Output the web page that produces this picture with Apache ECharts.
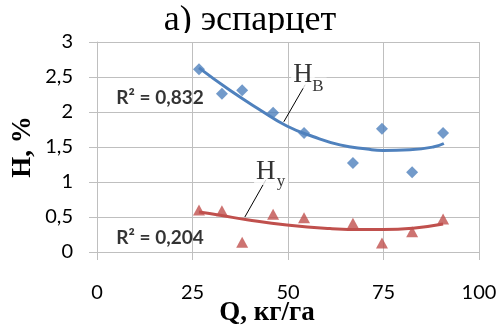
<!DOCTYPE html>
<html>
<head>
<meta charset="utf-8">
<script src="https://cdn.jsdelivr.net/npm/echarts@6/dist/echarts.min.js"></script>
<style>
html,body{margin:0;padding:0;background:#fff;}
#chart{width:500px;height:329px;}
</style>
</head>
<body>
<div id="chart"></div>
<script>
// ---- data ----
const seedRateQ = [26.7, 32.7, 38.0, 46.1, 54.2, 67.0, 74.6, 82.5, 90.6];
const hV = [2.61, 2.26, 2.31, 1.99, 1.70, 1.27, 1.76, 1.14, 1.70];
const hU = [0.60, 0.59, 0.14, 0.54, 0.49, 0.41, 0.13, 0.29, 0.47];

const trendVx = [26.7, 34.8, 42.7, 49.7, 56.5, 63.6, 70.7, 74.9, 81.9, 88.0, 90.8];
const trendVy = [2.63, 2.31, 2.03, 1.80, 1.65, 1.53, 1.47, 1.45, 1.46, 1.50, 1.55];
const trendUx = [26.7, 32.2, 39.3, 49.7, 61.0, 70.0, 74.9, 82.7, 90.6];
const trendUy = [0.57, 0.525, 0.46, 0.385, 0.335, 0.32, 0.32, 0.34, 0.40];

const xTickLabels = ['0', '25', '50', '75', '100'];
const yTickLabels = ['0', '0,5', '1', '1,5', '2', '2,5', '3'];

const titleText = 'а) эспарцет';
const xName = 'Q, кг/га';
const yName = 'H, %';
const r2Texts = ['R² = 0,832', 'R² = 0,204'];
const r2Pos = [[16.5, 2.2], [16.5, 0.2]];
const hMain = 'Н';
const hSubs = ['В', 'у'];
const hMainPos = [[53.9, 2.53], [44.2, 1.15]];
const hSubPos = [[58.1, 2.37], [48.4, 1.0]];
const leaders = [[[54.5, 2.39], [48.9, 1.86]], [[44.2, 1.03], [38.7, 0.50]]];

const BLUE = '#4F81BD';
const RED = '#C0504D';
const GRID = '#bfbfbf';

const zip = (a, b) => a.map((v, i) => [v, b[i]]);

const noteData = [];
r2Texts.forEach((t, i) => {
  noteData.push({
    value: r2Pos[i],
    label: {show: true, position: 'inside', formatter: t,
      fontFamily: 'Lato', fontWeight: 'bold', fontSize: 19, color: '#000'}
  });
});
hSubs.forEach((s, i) => {
  noteData.push({
    value: hMainPos[i],
    label: {show: true, position: 'inside', formatter: hMain,
      fontFamily: 'Liberation Serif', fontSize: 27, color: '#000',
      backgroundColor: '#fff', padding: [0, 2, 0, 2]}
  });
  noteData.push({
    value: hSubPos[i],
    label: {show: true, position: 'inside', formatter: s,
      fontFamily: 'Liberation Serif', fontSize: 17, color: '#000',
      backgroundColor: '#fff', padding: [0, 3, 0, 1]}
  });
});

const chart = echarts.init(document.getElementById('chart'), null, {renderer: 'canvas'});
chart.setOption({
  animation: false,
  backgroundColor: '#fff',
  title: {
    text: titleText, left: 'center', top: -2,
    textStyle: {fontFamily: 'Liberation Serif', fontSize: 36, fontWeight: 'normal', color: '#000'}
  },
  graphic: {
    elements: [{
      type: 'rect', z: 50, silent: true,
      shape: {x: 150, y: 33, width: 210, height: 8},
      style: {fill: '#fff'}
    }]
  },
  grid: {left: 97, right: 21, top: 42, bottom: 77, containLabel: false, outerBoundsMode: 'none'},
  xAxis: {
    type: 'value', min: 0, max: 100, interval: 25,
    name: xName, nameLocation: 'middle', nameGap: 48, nameMoveOverlap: false,
    nameTextStyle: {fontFamily: 'Liberation Serif', fontSize: 27, fontWeight: 'bold', color: '#000', padding: [0, 42, 0, 0]},
    axisLine: {show: true, lineStyle: {color: GRID, width: 1}},
    axisTick: {show: true, length: 8, lineStyle: {color: GRID}},
    axisLabel: {margin: 31, fontFamily: 'Lato', fontSize: 20, color: '#000',
      formatter: v => xTickLabels[Math.round(v / 25)]},
    splitLine: {show: true, lineStyle: {color: GRID, width: 1}}
  },
  yAxis: {
    type: 'value', min: 0, max: 3, interval: 0.5,
    name: yName, nameLocation: 'middle', nameGap: 60, nameRotate: 90, nameMoveOverlap: false,
    nameTextStyle: {fontFamily: 'Liberation Serif', fontSize: 27, fontWeight: 'bold', color: '#000'},
    axisLine: {show: true, lineStyle: {color: GRID, width: 1}},
    axisTick: {show: true, length: 8, lineStyle: {color: GRID}},
    axisLabel: {margin: 24, fontFamily: 'Lato', fontSize: 20, color: '#000',
      formatter: v => yTickLabels[Math.round(v / 0.5)]},
    splitLine: {show: true, lineStyle: {color: GRID, width: 1}}
  },
  series: [
    {
      name: 'Нв', type: 'scatter', data: zip(seedRateQ, hV),
      symbol: 'diamond', symbolSize: 12, itemStyle: {color: BLUE}, z: 3
    },
    {
      name: 'Ну', type: 'scatter', data: zip(seedRateQ, hU),
      symbol: 'triangle', symbolSize: [12, 11], itemStyle: {color: RED}, z: 3
    },
    {
      name: 'trendV', type: 'line', data: zip(trendVx, trendVy), smooth: true,
      showSymbol: false, lineStyle: {color: BLUE, width: 3}, z: 4
    },
    {
      name: 'trendU', type: 'line', data: zip(trendUx, trendUy), smooth: true,
      showSymbol: false, lineStyle: {color: RED, width: 3}, z: 4
    },
    {
      name: 'notes', type: 'scatter', data: noteData, symbolSize: 1, silent: true,
      itemStyle: {color: 'rgba(0,0,0,0)'}, z: 6,
      markLine: {
        silent: true, symbol: ['none', 'none'], label: {show: false},
        lineStyle: {color: '#000', width: 1, type: 'solid'},
        data: leaders.map(l => [{coord: l[0]}, {coord: l[1]}])
      }
    }
  ]
});
</script>
</body>
</html>
